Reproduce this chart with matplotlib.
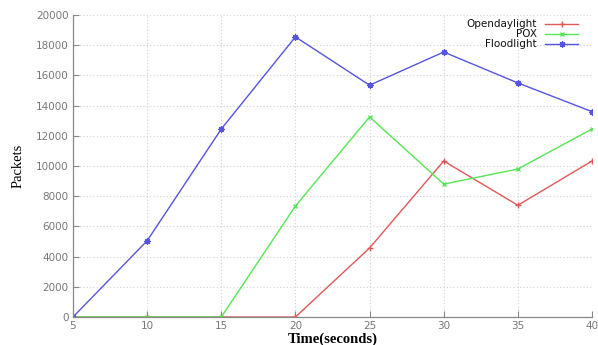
import matplotlib
matplotlib.use("Agg")
import matplotlib.pyplot as plt
from matplotlib.lines import Line2D

time = [5, 10, 15, 20, 25, 30, 35, 40]
opendaylight = [0, 0, 0, 0, 4570, 10330, 7400, 10330]
pox = [0, 0, 0, 7350, 13250, 8800, 9800, 12450]
floodlight = [0, 5050, 12450, 18550, 15350, 17550, 15500, 13600]
yticks = [0, 2000, 4000, 6000, 8000, 10000, 12000, 14000, 16000, 18000, 20000]

W, H = 598, 345
fig = plt.figure(figsize=(W/100, H/100), dpi=100)
ax = fig.add_axes([73/W, 1-317/H, (592-73)/W, (317-15)/H])

styles = [
    ('Opendaylight', opendaylight, dict(color='#e05858', marker='+', ms=4.5, mew=1.0)),
    ('POX', pox, dict(color='#55e655', marker='x', ms=3.5, mew=1.0)),
    ('Floodlight', floodlight, dict(color='#5555dd', marker=(8, 2, 0), ms=4.5, mew=0.9)),
]
for name, vals, st in styles:
    ax.plot(time, vals, lw=1.0, label=name, **st)

ax.set_xlim(5, 40)
ax.set_ylim(0, 20000)
ax.set_xticks(time)
ax.set_yticks(yticks)
ax.tick_params(direction='in', length=4, width=0.8, colors='#888888', labelsize=7.5, labelcolor='#777777', pad=3)
for s in ['top', 'right']:
    ax.spines[s].set_visible(False)
for s in ['left', 'bottom']:
    ax.spines[s].set_color('#888888')
    ax.spines[s].set_linewidth(0.9)
ax.grid(True, linestyle=(0, (1, 2)), color='#d0d0d0', lw=0.8)
ax.set_axisbelow(True)

ax.set_ylabel('Packets', family='Liberation Serif', fontsize=10.5, labelpad=8)
ax.set_xlabel('Time(seconds)', family='Liberation Serif', fontsize=10.5, fontweight='bold', labelpad=1)

# manual legend: right-aligned labels, line samples to the right
for i, (name, vals, st) in enumerate(styles):
    y = 1 - (24 + 10 * i) / H
    fig.text(537/W, y, name, ha='right', va='center', fontsize=7.5, color='#111111')
    fig.add_artist(Line2D([545/W, 561.5/W, 578/W], [y, y, y], transform=fig.transFigure,
                          lw=1.0, markevery=[1], **st))

fig.savefig('out.png', dpi=100)
